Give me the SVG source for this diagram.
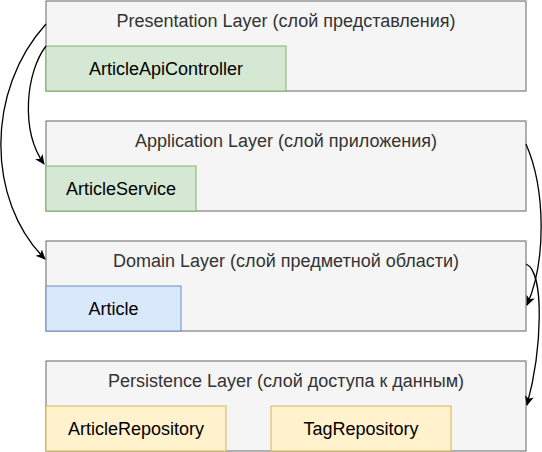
<svg xmlns="http://www.w3.org/2000/svg" width="542" height="452" viewBox="0 0 542 452">
  <style>
    .layer { fill: #f5f5f5; stroke: #666666; stroke-width: 1; }
    .layer-title { font-family: "Liberation Sans", Arial, sans-serif; font-size: 18px; fill: #333333; text-anchor: middle; }
    .green { fill: #d5e8d4; stroke: #82b366; stroke-width: 1; }
    .blue { fill: #dae8fc; stroke: #6c8ebf; stroke-width: 1; }
    .yellow { fill: #fff2cc; stroke: #d6b656; stroke-width: 1; }
    .label { font-family: "Liberation Sans", Arial, sans-serif; font-size: 18px; fill: #000000; text-anchor: middle; }
    .edge { fill: none; stroke: #000000; stroke-width: 1.3; marker-end: url(#arrow); }
  </style>
  <defs>
    <marker id="arrow" viewBox="0 0 10 10" refX="9" refY="5" markerWidth="10" markerHeight="10" markerUnits="userSpaceOnUse" orient="auto">
      <path d="M0,0.5 L10,5 L0,9.5 L2.5,5 Z" fill="#000000"/>
    </marker>
  </defs>

  <rect width="542" height="452" fill="#ffffff"/>

  <g id="presentation-layer">
    <rect class="layer" x="46" y="1" width="480" height="90"/>
    <text class="layer-title" x="286" y="27">Presentation Layer (слой представления)</text>
  </g>
  <g id="article-api-controller">
    <rect class="green" x="46" y="46" width="240" height="45"/>
    <text class="label" x="166" y="74.5">ArticleApiController</text>
  </g>

  <g id="application-layer">
    <rect class="layer" x="46" y="121" width="480" height="90"/>
    <text class="layer-title" x="286" y="147">Application Layer (слой приложения)</text>
  </g>
  <g id="article-service">
    <rect class="green" x="46" y="166" width="150" height="45"/>
    <text class="label" x="121" y="194.5">ArticleService</text>
  </g>

  <g id="domain-layer">
    <rect class="layer" x="46" y="241" width="480" height="90"/>
    <text class="layer-title" x="286" y="267">Domain Layer (слой предметной области)</text>
  </g>
  <g id="article">
    <rect class="blue" x="46" y="286" width="135" height="45"/>
    <text class="label" x="113.5" y="314.5">Article</text>
  </g>

  <g id="persistence-layer">
    <rect class="layer" x="46" y="361" width="480" height="90"/>
    <text class="layer-title" x="286" y="387">Persistence Layer (слой доступа к данным)</text>
  </g>
  <g id="article-repository">
    <rect class="yellow" x="46" y="406" width="180" height="45"/>
    <text class="label" x="136" y="434.5">ArticleRepository</text>
  </g>
  <g id="tag-repository">
    <rect class="yellow" x="271" y="406" width="180" height="45"/>
    <text class="label" x="361" y="434.5">TagRepository</text>
  </g>

  <g id="connectors">
    <path class="edge" d="M46,24 C -14,90 -14,200 45,259"/>
    <path class="edge" d="M46,46 C 26,72 20,130 44,164"/>
    <path class="edge" d="M526,144 C 546,190 546,262 527,305"/>
    <path class="edge" d="M526,264 C 545,272 542,350 527,405"/>
  </g>
</svg>
